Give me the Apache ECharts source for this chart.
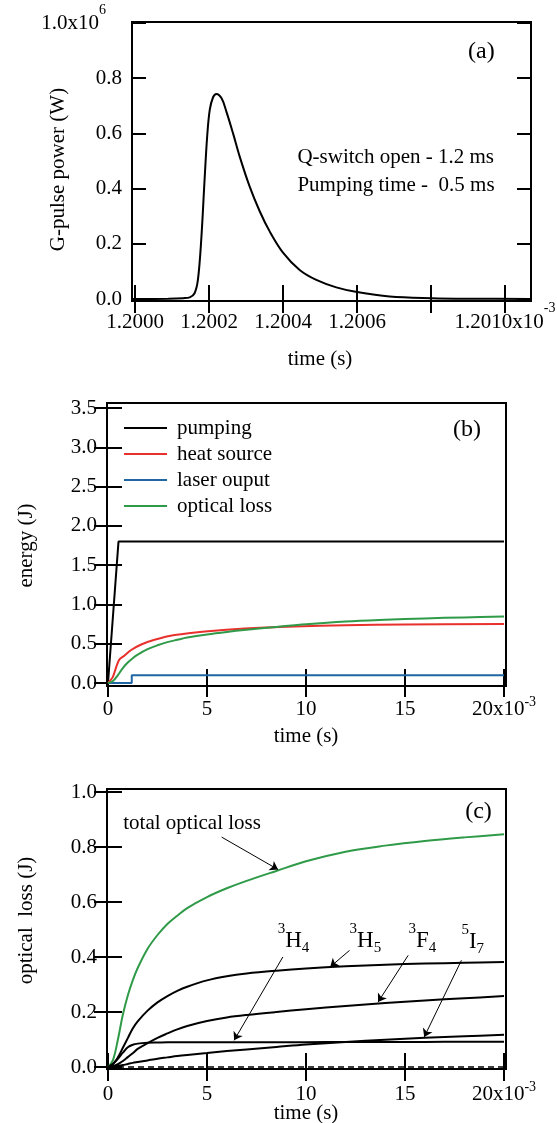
<!DOCTYPE html>
<html>
<head>
<meta charset="utf-8">
<script src="https://cdn.jsdelivr.net/npm/echarts@6/dist/echarts.min.js"></script>
<style>
  html, body { margin: 0; padding: 0; background: #fff; }
  #chart { width: 557px; height: 1123px; }
</style>
</head>
<body>
<div id="chart"></div>
<script>
// ---------- (a) giant pulse: time in ms (x10^-3 s), power in units of 10^6 W ----------
const pulseTime  = [1.199992, 1.20009, 1.20013, 1.200148, 1.200161, 1.20017, 1.200179, 1.200188, 1.200195,
                    1.200202, 1.200211, 1.20022, 1.200234, 1.200247, 1.200265, 1.200283, 1.20031, 1.200337,
                    1.200364, 1.2004, 1.200445, 1.20049, 1.200544, 1.2006, 1.200688, 1.200801, 1.200913, 1.201068];
const pulsePower = [0.0, 0.001, 0.003, 0.006, 0.021, 0.069, 0.214, 0.431, 0.588,
                    0.685, 0.731, 0.743, 0.727, 0.679, 0.600, 0.516, 0.407, 0.318,
                    0.245, 0.168, 0.105, 0.069, 0.042, 0.025, 0.009, 0.003, 0.001, 0.0];

// ---------- (b) energy balance (time in ms) ----------
const pumpTime    = [0, 0.53, 20];
const pumpEnergy  = [0, 1.8, 1.8];
const heatTime    = [0, 0.24, 0.41, 0.58, 0.84, 1.17, 1.68, 2.35, 3.37, 5.05, 6.91, 9.44, 12, 15, 20];
const heatEnergy  = [0, 0.075, 0.2, 0.3, 0.35, 0.42, 0.49, 0.55, 0.61, 0.66, 0.695, 0.72, 0.735, 0.745, 0.75];
const laserTime   = [0, 1.2, 1.2, 20];
const laserEnergy = [0, 0, 0.1, 0.1];

// ---------- optical loss, total and per level (time in ms) ----------
const lossTime    = [0, 0.25, 0.5, 0.75, 1.0, 1.25, 1.5, 2.0, 2.5, 3.0, 3.5, 4.0, 5.0, 6.0, 7.0, 8.5, 10, 12, 14, 16, 18, 20];
const opticalLoss = [0, 0.025, 0.1, 0.19, 0.26, 0.315, 0.36, 0.43, 0.48, 0.52, 0.55, 0.578, 0.618, 0.65, 0.677, 0.713, 0.748, 0.783, 0.805, 0.822, 0.835, 0.846];
const lossH4      = [0, 0.012, 0.03, 0.052, 0.072, 0.081, 0.085, 0.088, 0.089, 0.09, 0.09, 0.09, 0.09, 0.09, 0.09, 0.09, 0.09, 0.091, 0.091, 0.091, 0.092, 0.092];
const lossH5      = [0, 0.01, 0.035, 0.07, 0.105, 0.14, 0.166, 0.205, 0.235, 0.258, 0.277, 0.292, 0.315, 0.33, 0.34, 0.35, 0.358, 0.366, 0.372, 0.376, 0.379, 0.382];
const lossF4      = [0, 0.003, 0.01, 0.022, 0.036, 0.05, 0.066, 0.087, 0.106, 0.122, 0.137, 0.149, 0.167, 0.18, 0.189, 0.2, 0.21, 0.222, 0.233, 0.242, 0.25, 0.258];
const lossI7      = [0, 0.002, 0.004, 0.007, 0.011, 0.015, 0.018, 0.024, 0.03, 0.035, 0.04, 0.044, 0.051, 0.058, 0.064, 0.073, 0.082, 0.091, 0.099, 0.106, 0.112, 0.117];
const lossOther   = [0, 0, 0, 0, 0, 0, 0, 0, 0, 0, 0, 0, 0, 0, 0, 0, 0, 0, 0, 0, 0, 0];

// ---------- tick ranges: [first tick, last tick, step] ----------
const pulseTicksX  = [1.2000, 1.2010, 0.0002];
const pulseTicksY  = [0, 1.0, 0.2];
const timeTicks    = [0, 20, 5];
const energyTicksY = [0, 3.5, 0.5];
const lossTicksY   = [0, 1.0, 0.2];

// ---------- annotation anchors (data coordinates) ----------
const levelLabels = [
  { sup: '3', main: 'H', sub: '4', at: [8.57, 0.458] },
  { sup: '3', main: 'H', sub: '5', at: [12.2, 0.458] },
  { sup: '3', main: 'F', sub: '4', at: [15.18, 0.458] },
  { sup: '5', main: 'I', sub: '7', at: [17.85, 0.455] }
];
const arrows = [
  [[5.74, 0.836], [8.59, 0.718]],
  [[8.83, 0.40], [6.37, 0.097]],
  [[12.2, 0.424], [11.22, 0.364]],
  [[15.16, 0.406], [13.64, 0.236]],
  [[17.85, 0.388], [15.97, 0.109]]
];

const FONT = "'Liberation Serif', 'Times New Roman', Times, serif";
const BLACK = '#000';
const RED = '#e8302c';
const BLUE = '#1f66a3';
const GREEN = '#2f9a48';

const pairs = (xs, ys) => xs.map((x, i) => [x, ys[i]]);

// Panel layout. "box" is the framed plot area; "ticks" is the sub-area spanned by the
// first and last tick, so every axis can count its ticks from a round minimum.
const panels = [
  { box: { left: 132, top: 22, width: 399, height: 279 }, ticks: { left: 135, top: 23, width: 370, height: 276 } },
  { box: { left: 107, top: 403, width: 399, height: 283 }, ticks: { left: 108, top: 408, width: 396, height: 275 } },
  { box: { left: 107, top: 789, width: 399, height: 280 }, ticks: { left: 108, top: 792, width: 396, height: 275 } }
];
const xTickSets = [pulseTicksX, timeTicks, timeTicks];
const yTickSets = [pulseTicksY, energyTicksY, lossTicksY];

// data-axis extent of the framed box, derived from the tick sub-area
function boxExtent(p, tx, ty) {
  const b = p.box, t = p.ticks;
  const sx = (tx[1] - tx[0]) / t.width, sy = (ty[1] - ty[0]) / t.height;
  return {
    x: [tx[0] - (t.left - b.left) * sx, tx[1] + (b.left + b.width - t.left - t.width) * sx],
    y: [ty[0] - (b.top + b.height - t.top - t.height) * sy, ty[1] + (t.top - b.top) * sy]
  };
}

const tickStyle = { show: true, inside: true, length: 14, lineStyle: { color: BLACK, width: 2 } };
const nameStyle = { color: BLACK, fontFamily: FONT, fontSize: 21 };

function tickAxes(dim, i, label, name, nameGap, namePad) {
  const p = panels[i], b = p.box, t = p.ticks;
  const ts = dim === 'x' ? xTickSets[i] : yTickSets[i];
  const offs = dim === 'x'
    ? [b.top + b.height - t.top - t.height, t.top - b.top]
    : [t.left - b.left, b.left + b.width - t.left - t.width];
  const pos = dim === 'x' ? ['bottom', 'top'] : ['left', 'right'];
  const base = {
    type: 'value', gridIndex: 3 + i, min: ts[0], max: ts[1], interval: ts[2],
    splitLine: { show: false }, axisLine: { show: false }, axisTick: tickStyle
  };
  return [
    Object.assign({}, base, {
      position: pos[0], offset: offs[0],
      axisLabel: Object.assign({ color: BLACK, fontFamily: FONT, fontSize: 21 }, label),
      name, nameLocation: 'middle', nameGap, nameMoveOverlap: false,
      nameTextStyle: Object.assign({ padding: namePad || [0, 0, 0, 0] }, nameStyle)
    }),
    Object.assign({}, base, { position: pos[1], offset: offs[1], axisLabel: { show: false } })
  ];
}

// rich styles for tick labels carrying an exponent
function xRich(lineHeight) {
  return {
    m: { fontFamily: FONT, fontSize: 21, lineHeight, color: BLACK },
    s: { fontFamily: FONT, fontSize: 14, lineHeight: 14, verticalAlign: 'top', color: BLACK }
  };
}

const pulseXLabel = {
  margin: 0,
  rich: xRich(42),
  formatter: v => {
    const k = Math.round((v - 1.2) * 1e4);
    if (k === 8) return '';
    if (k === 10) return '{m|1.2010x10}{s|-3}';
    return '{m|' + (1.2 + k * 1e-4).toFixed(4) + '}';
  }
};
const pulseYLabel = {
  margin: 10,
  rich: {
    m: { fontFamily: FONT, fontSize: 21, lineHeight: 40, color: BLACK },
    s: { fontFamily: FONT, fontSize: 14, lineHeight: 14, verticalAlign: 'top', padding: [0, 16, 0, 0], color: BLACK }
  },
  formatter: v => (v > 0.99 ? '{m|1.0x10}{s|6}' : v.toFixed(1))
};
const timeXLabel = margin => ({
  margin,
  rich: xRich(28),
  formatter: v => (v === 20 ? '{m|20x10}{s|-3}' : '{m|' + v + '}')
});
const oneDecimal = { margin: 10, formatter: v => v.toFixed(1) };

const lineSeries = (name, gi, xs, ys, color, extra) => Object.assign({
  name, type: 'line', xAxisIndex: gi, yAxisIndex: gi,
  data: pairs(xs, ys), symbol: 'none', showSymbol: false,
  itemStyle: { color }, lineStyle: { color, width: 2 },
  emphasis: { disabled: true }, silent: true
}, extra || {});

const smoothOpt = { smooth: 0.35 };

const extents = panels.map((p, i) => boxExtent(p, xTickSets[i], yTickSets[i]));

const chart = echarts.init(document.getElementById('chart'), null, { renderer: 'canvas' });

chart.setOption({
  animation: false,
  backgroundColor: '#fff',
  textStyle: { fontFamily: FONT },
  grid: [
    ...panels.map(p => Object.assign({ show: true, borderColor: BLACK, borderWidth: 2, backgroundColor: 'transparent', outerBoundsMode: 'none', containLabel: false }, p.box)),
    ...panels.map(p => Object.assign({ show: false, outerBoundsMode: 'none', containLabel: false }, p.ticks))
  ],
  xAxis: [
    ...extents.map((e, i) => ({ type: 'value', gridIndex: i, min: e.x[0], max: e.x[1], show: false })),
    ...tickAxes('x', 0, pulseXLabel, 'time (s)', 48),
    ...tickAxes('x', 1, timeXLabel(9.5), 'time (s)', 40),
    ...tickAxes('x', 2, timeXLabel(11.5), 'time (s)', 34)
  ],
  yAxis: [
    ...extents.map((e, i) => ({ type: 'value', gridIndex: i, min: e.y[0], max: e.y[1], show: false })),
    ...tickAxes('y', 0, pulseYLabel, 'G-pulse power (W)', 63, [0, 17, 0, 0]),
    ...tickAxes('y', 1, oneDecimal, 'energy (J)', 70),
    ...tickAxes('y', 2, oneDecimal, 'optical  loss (J)', 70, [0, 0, 0, 18])
  ],
  legend: {
    data: ['pumping', 'heat source', 'laser ouput', 'optical loss'],
    orient: 'vertical',
    left: 124, top: 417, padding: 0,
    icon: 'rect', itemWidth: 43, itemHeight: 2, itemGap: 4,
    selectedMode: false,
    textStyle: { color: BLACK, fontFamily: FONT, fontSize: 21, lineHeight: 22, padding: [0, 0, 0, 5] }
  },
  series: [
    // (a)
    lineSeries('G-pulse power', 0, pulseTime, pulsePower, BLACK, smoothOpt),
    // (b)
    lineSeries('pumping', 1, pumpTime, pumpEnergy, BLACK),
    lineSeries('heat source', 1, heatTime, heatEnergy, RED, smoothOpt),
    lineSeries('laser ouput', 1, laserTime, laserEnergy, BLUE),
    lineSeries('optical loss', 1, lossTime, opticalLoss, GREEN, smoothOpt),
    // (c)
    lineSeries('total optical loss', 2, lossTime, opticalLoss, GREEN, smoothOpt),
    lineSeries('3H4', 2, lossTime, lossH4, BLACK, smoothOpt),
    lineSeries('3H5', 2, lossTime, lossH5, BLACK, smoothOpt),
    lineSeries('3F4', 2, lossTime, lossF4, BLACK, smoothOpt),
    lineSeries('5I7', 2, lossTime, lossI7, BLACK, smoothOpt),
    lineSeries('other levels', 2, lossTime, lossOther, BLACK, {
      lineStyle: { color: BLACK, width: 1.5, type: [6, 4] },
      markLine: {
        silent: true,
        symbol: ['none', 'arrow'],
        symbolSize: 8,
        label: { show: false },
        lineStyle: { color: BLACK, width: 1, type: 'solid' },
        data: arrows.map(a => [{ coord: a[0] }, { coord: a[1] }])
      }
    })
  ]
});

// text annotations placed from data coordinates
const px = (grid, pt) => chart.convertToPixel({ gridIndex: grid }, pt);
const plain = (pos, text, size, align) => ({
  type: 'text', x: pos[0], y: pos[1], silent: true,
  style: { text, fill: BLACK, fontFamily: FONT, fontSize: size, align: align || 'left', verticalAlign: 'middle' }
});

const graphics = [
  plain(px(0, [1.200439, 0.513]), 'Q-switch open - 1.2 ms', 21),
  plain(px(0, [1.200439, 0.413]), 'Pumping time -  0.5 ms', 21),
  plain(px(2, [0.77, 0.885]), 'total optical loss', 21)
];

// panel tags, placed from the top-right corner of each framed box
const tagAt = (i, dx, dy) => {
  const b = panels[i].box;
  return [b.left + b.width - dx, b.top + dy];
};
graphics.push(plain(tagAt(0, 49.7, 29.7), '(a)', 24, 'center'));
graphics.push(plain(tagAt(1, 39, 26.3), '(b)', 24, 'center'));
graphics.push(plain(tagAt(2, 27.5, 22.7), '(c)', 24, 'center'));

// spectroscopic level labels with superscript / subscript
levelLabels.forEach(l => {
  const p = px(2, l.at);
  graphics.push({
    type: 'text', x: p[0], y: p[1], silent: true,
    style: {
      text: '{s|' + l.sup + '}{m|' + l.main + '}{b|' + l.sub + '}',
      align: 'left', verticalAlign: 'middle', fill: BLACK,
      rich: {
        s: { fontFamily: FONT, fontSize: 15, lineHeight: 15, verticalAlign: 'top', fill: BLACK },
        m: { fontFamily: FONT, fontSize: 23, lineHeight: 39, fill: BLACK },
        b: { fontFamily: FONT, fontSize: 15, lineHeight: 15, verticalAlign: 'bottom', padding: [0, 0, 5, 0], fill: BLACK }
      }
    }
  });
});

chart.setOption({ graphic: graphics });
</script>
</body>
</html>
